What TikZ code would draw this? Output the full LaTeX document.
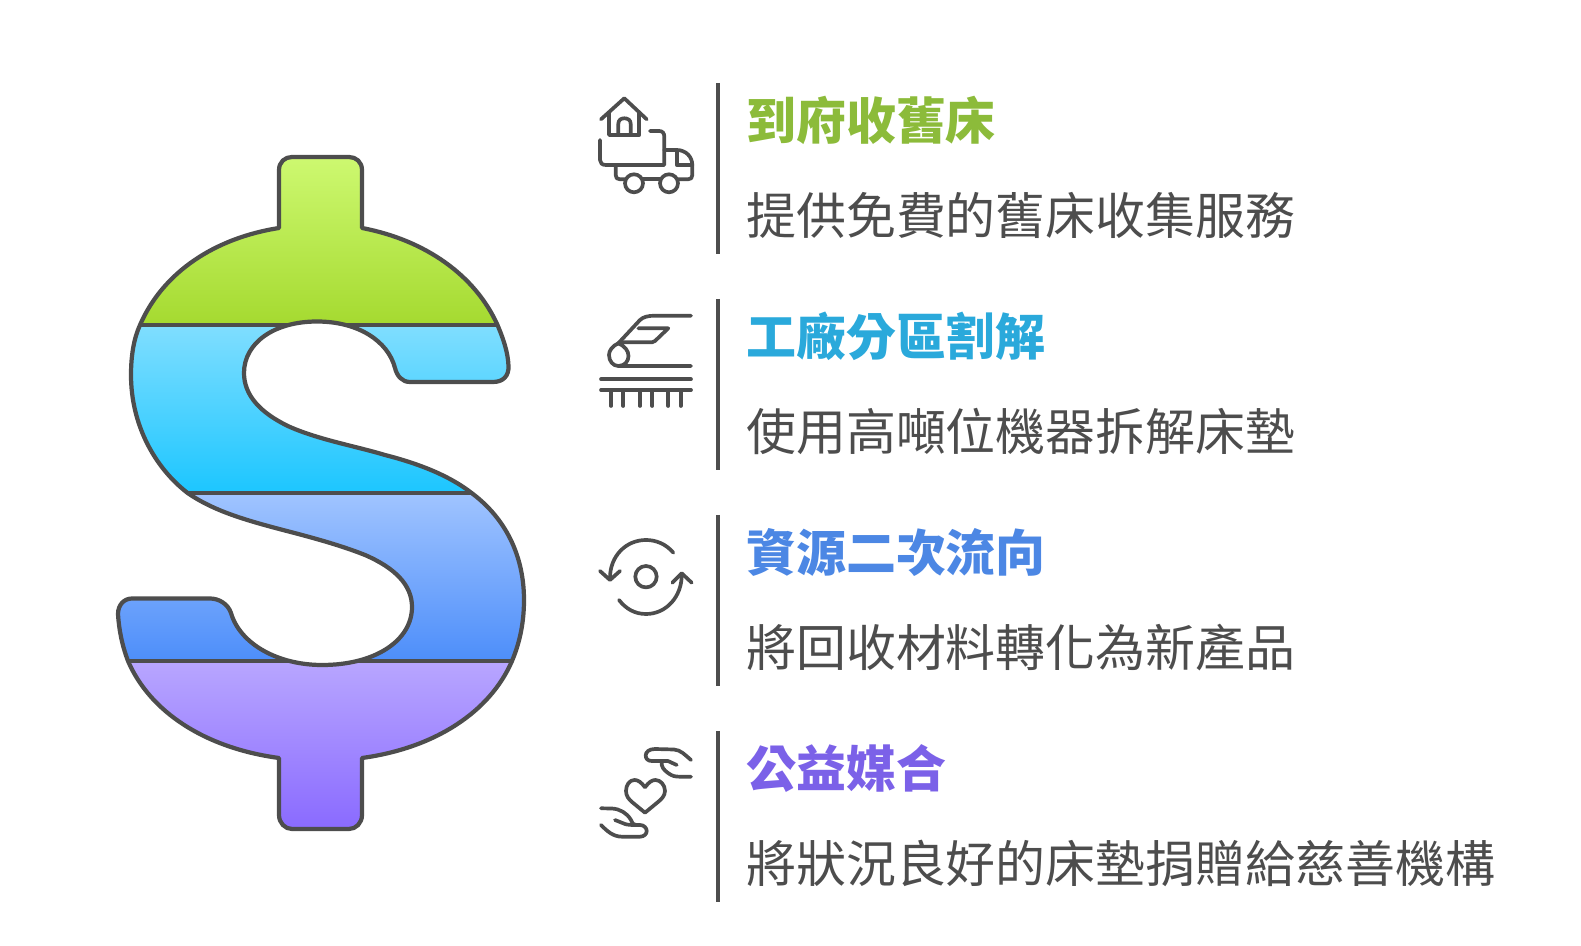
\documentclass[tikz,border=0pt]{standalone}
\usepackage{fontspec}
\usepackage{tikz}
\newfontfamily\cjk{Noto Sans CJK TC}
\definecolor{ink}{HTML}{4D4D4D}
\definecolor{titlegreen}{HTML}{8CBB3A}
\definecolor{titlecyan}{HTML}{2AA9DB}
\definecolor{titleblue}{HTML}{4C87E4}
\definecolor{titleviolet}{HTML}{7B61E8}
\tikzset{
	head/.style={anchor=west, inner sep=0pt, font=\cjk\fontsize{14.2pt}{17pt}\selectfont\bfseries},
	body/.style={anchor=west, inner sep=0pt, text=ink, font=\cjk\fontsize{14.2pt}{17pt}\selectfont},
	rule/.style={draw=ink, line width=1.1pt},
	outline/.style={draw=ink, line width=1.2pt, line join=round},
	icon/.style={draw=ink, line width=1.05pt, line cap=round, line join=round}
}
\newcommand{\dollarpath}{(279,228) -- (279,170) .. controls (279,162) and (285,157) .. (292,157) -- (349,157) .. controls (356,157) and (362,162) .. (362,170) -- (362,228)
	.. controls (425,240) and (475,275) .. (497.5,325) .. controls (503,338) and (508,352) .. (508.5,366) .. controls (509,376) and (503,382) .. (493,382)
	-- (410,382) .. controls (402,382) and (397,376) .. (395,368) .. controls (388,341) and (358,321.5) .. (317,321.5) .. controls (274,321.5) and (244,343) .. (244,373)
	.. controls (244,395) and (260,413) .. (290,427) .. controls (320,440) and (355,446) .. (385,455) .. controls (420,464) and (450,476) .. (472,493.3)
	.. controls (505,518) and (524,555) .. (524,600) .. controls (524,622) and (520,642) .. (512,661) .. controls (490,712) and (435,748) .. (362,758)
	-- (362,815) .. controls (362,823) and (356,829) .. (349,829) -- (292,829) .. controls (285,829) and (279,823) .. (279,815) -- (279,758)
	.. controls (205,748) and (150,712) .. (128,661) .. controls (122,645) and (119,630) .. (118,614) .. controls (118,605) and (124,598.5) .. (132,598.5)
	-- (210,598.5) .. controls (219,598.5) and (228,604) .. (231,613) .. controls (240,644) and (278,665) .. (322,665) .. controls (376,665) and (412,640) .. (412,607)
	.. controls (412,585) and (395,568) .. (365,555) .. controls (340,545) and (310,537) .. (283,530) .. controls (245,520) and (214,511) .. (188,493.3)
	.. controls (155,468) and (131,425) .. (131,375) .. controls (131,355) and (134,338) .. (140,325) .. controls (163,272) and (215,238) .. (279,228) -- cycle}
\begin{document}
\begin{tikzpicture}[x=0.01cm, y=-0.01cm]
	\useasboundingbox (0,0) rectangle (1581,946);
	\begin{scope}
		\clip \dollarpath;
		\shade[top color={rgb,255:red,207;green,250;blue,115}, bottom color={rgb,255:red,165;green,218;blue,48}] (100,150) rectangle (540,324.7);
		\shade[top color={rgb,255:red,128;green,222;blue,255}, bottom color={rgb,255:red,28;green,198;blue,255}] (100,324.7) rectangle (540,493.3);
		\shade[top color={rgb,255:red,160;green,196;blue,255}, bottom color={rgb,255:red,77;green,142;blue,250}] (100,493.3) rectangle (540,661);
		\shade[top color={rgb,255:red,184;green,166;blue,255}, bottom color={rgb,255:red,136;green,104;blue,255}] (100,661) rectangle (540,835);
		\draw[outline] (100,324.7) -- (540,324.7);
		\draw[outline] (100,493.3) -- (540,493.3);
		\draw[outline] (100,661) -- (540,661);
	\end{scope}
	\draw[outline] \dollarpath;

	\draw[icon] (601,119.3) -- (624.3,98.3) -- (646.7,119.3);
	\draw[icon] (609,113) -- (609,135) -- (639.3,135) -- (639.3,113);
	\draw[icon] (618.3,135) -- (618.3,124) .. controls (618.3,120) and (621,118.3) .. (624.3,118.3) .. controls (628,118.3) and (630.7,120) .. (630.7,124) -- (630.7,135);
	\draw[icon] (650,131) -- (659,131) .. controls (662.5,131) and (664.3,133) .. (664.3,136.7) -- (664.3,165) -- (606,165) .. controls (602,165) and (600,163) .. (600,160) -- (600,140);
	\draw[icon] (664.3,150) -- (676.7,150) .. controls (686,150) and (692.3,157) .. (692.3,165) -- (692.3,175) .. controls (692.3,178) and (691,179.3) .. (688,179.3) -- (678,179.3);
	\draw[icon] (676.7,150) -- (676.7,165) -- (692.3,165);
	\draw[icon] (615.7,165) -- (615.7,175) .. controls (615.7,178) and (617,179.3) .. (620,179.3) -- (625,179.3);
	\draw[icon] (643,179.3) -- (660,179.3);
	\draw[icon] (634,183.3) circle[radius=9];
	\draw[icon] (669,183.3) circle[radius=9];

	\draw[icon] (691,315.7) -- (655,315.7) .. controls (648,315.7) and (643,317) .. (640,320) -- (618.3,343.3);
	\draw[icon] (618.3,343.3) .. controls (612,346) and (609,351) .. (609,355) .. controls (609,361) and (613,366) .. (618.3,366) -- (691,366);
	\draw[icon] (618.3,343.3) .. controls (625,346) and (628.5,351) .. (628.5,356) .. controls (628.5,361) and (625,366) .. (618.3,366);
	\draw[icon] (638.3,328.3) -- (668.3,328.3) -- (655,341) .. controls (654,342) and (653,342.3) .. (652,342.3) -- (620,342.3);
	\draw[icon] (601,379.3) -- (691,379.3);
	\draw[icon] (601,390) -- (691,390);
	\draw[icon] (611,390) -- (611,406);
	\draw[icon] (623.3,390) -- (623.3,406);
	\draw[icon] (640,390) -- (640,406);
	\draw[icon] (652.3,390) -- (652.3,406);
	\draw[icon] (668.3,390) -- (668.3,406);
	\draw[icon] (680.7,390) -- (680.7,406);

	\draw[icon] (646,576.7) circle[radius=10.7];
	\draw[icon] (673.3,552.7) .. controls (666,544) and (656,540) .. (646,540) .. controls (626,540) and (610,556) .. (610,578);
	\draw[icon] (600,571) -- (610,580) -- (620,571);
	\draw[icon] (619,600) .. controls (626,609) and (635,614) .. (646,614) .. controls (666,614) and (681.7,597) .. (681.7,575);
	\draw[icon] (672.3,582.7) -- (681.7,573.3) -- (691.7,582.7);

	\draw[icon] (645,787.3) .. controls (641,782) and (638,780) .. (634.5,780) .. controls (629.5,780) and (626,785) .. (626,791) .. controls (626,796) and (629,799.5) .. (632,802) -- (645,812.7) -- (658,802) .. controls (661,799.5) and (665,796) .. (665,791) .. controls (665,785) and (660.5,780) .. (655.5,780) .. controls (652,780) and (649,782) .. (645,787.3);
	\draw[icon] (691,760) .. controls (685,755) and (681,750) .. (674,749.5) -- (655,749) .. controls (649,749) and (645.7,752) .. (645.7,755.5) .. controls (645.7,759) and (648,761) .. (652,761) -- (668,761) -- (676.7,765);
	\draw[icon] (661.7,761.5) .. controls (661,767) and (664,770) .. (668,773) .. controls (672,776) and (675,776.7) .. (680,776.7) -- (691,776.7);
	\draw[icon] (601,808.3) -- (612,808.5) .. controls (620,809) and (627,813) .. (631,820) .. controls (632,823) and (633,825) .. (636,825) -- (640,825) .. controls (644,825) and (646.7,828) .. (646.7,831) .. controls (646.7,834) and (644,836.7) .. (640,836.7) -- (622,836.7) .. controls (613,836.7) and (607,831) .. (601,825);
	\draw[icon] (615,820) -- (625,824) .. controls (628,825) and (632,825) .. (636,825);

	\draw[rule] (718,83) -- (718,254);
	\node (head1) at (745.5,120.5) [head, text=titlegreen] {到府收舊床};
	\node (body1) at (745.5,215.3) [body] {提供免費的舊床收集服務};

	\draw[rule] (718,299) -- (718,470);
	\node (head2) at (745.5,336.5) [head, text=titlecyan] {工廠分區割解};
	\node (body2) at (745.5,431.3) [body] {使用高噸位機器拆解床墊};

	\draw[rule] (718,515) -- (718,686);
	\node (head3) at (745.5,552.5) [head, text=titleblue] {資源二次流向};
	\node (body3) at (745.5,647.3) [body] {將回收材料轉化為新產品};

	\draw[rule] (718,731) -- (718,902);
	\node (head4) at (745.5,768.5) [head, text=titleviolet] {公益媒合};
	\node (body4) at (745.5,863.3) [body] {將狀況良好的床墊捐贈給慈善機構};
\end{tikzpicture}
\end{document}
